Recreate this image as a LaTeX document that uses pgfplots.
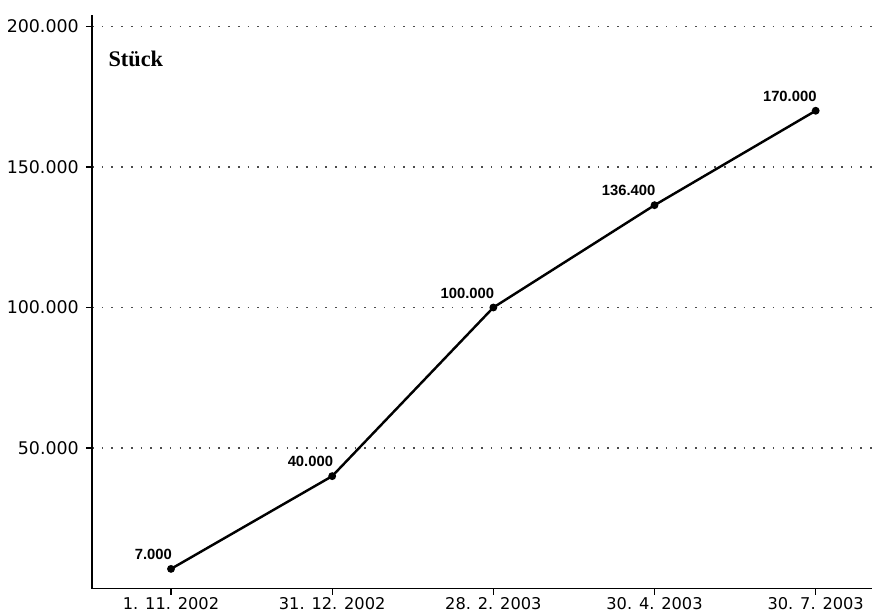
\documentclass[border=0pt]{standalone}
\usepackage{fontspec}
\setmainfont{Liberation Sans}
\newfontfamily\serifbold{Liberation Serif}
\newfontfamily\ticksfont{DejaVu Sans}
\usepackage{pgfplots}
\usepackage{pgfplotstable}
\pgfplotsset{compat=1.18}
\pgfplotstableread{
x y lab
0 7000 7.000
1 40000 40.000
2 100000 100.000
3 136400 136.400
4 170000 170.000
}\datatable
\begin{document}
\begin{tikzpicture}
\begin{axis}[
  scale only axis,
  width=385pt, height=283pt,
  xmin=-0.49, xmax=4.35,
  ymin=0, ymax=204000,
  axis x line*=bottom, axis y line*=left,
  axis line style={black, line width=0.9pt},
  tick align=outside,
  major tick length=3pt,
  tick style={black, line width=0.6pt},
  xtick={0,1,2,3,4},
  xticklabels={1. 11. 2002, 31. 12. 2002, 28. 2. 2003, 30. 4. 2003, 30. 7. 2003},
  ytick={50000,100000,150000,200000},
  yticklabels={50.000,100.000,150.000,200.000},
  scaled y ticks=false,
  ymajorgrids,
  grid style={black!70, line width=0.6pt, dash pattern=on 0.8pt off 4pt},
  yticklabel style={font=\ticksfont\fontsize{8.6}{9}\selectfont},
  xticklabel style={font=\ticksfont\fontsize{8}{9}\selectfont, inner sep=1pt},
  /pgf/number format/assume math mode=true,
  clip=false,
  nodes near coords,
  point meta=explicit symbolic,
  every node near coord/.append style={anchor=south east, font=\fontsize{7.3}{8}\selectfont\bfseries, inner sep=1pt, yshift=3pt, xshift=2pt},
]
\addplot[black, line width=1.2pt, mark=*, mark size=1.3pt] table[x=x, y=y, meta=lab] {\datatable};
\node[anchor=west, inner sep=0pt, font=\serifbold\bfseries\fontsize{11}{12}\selectfont] at (axis cs:-0.39,188500) {Stück};
\path (rel axis cs:0,1) ++(0,7pt) node[inner sep=0pt] {};
\end{axis}
\end{tikzpicture}
\end{document}
